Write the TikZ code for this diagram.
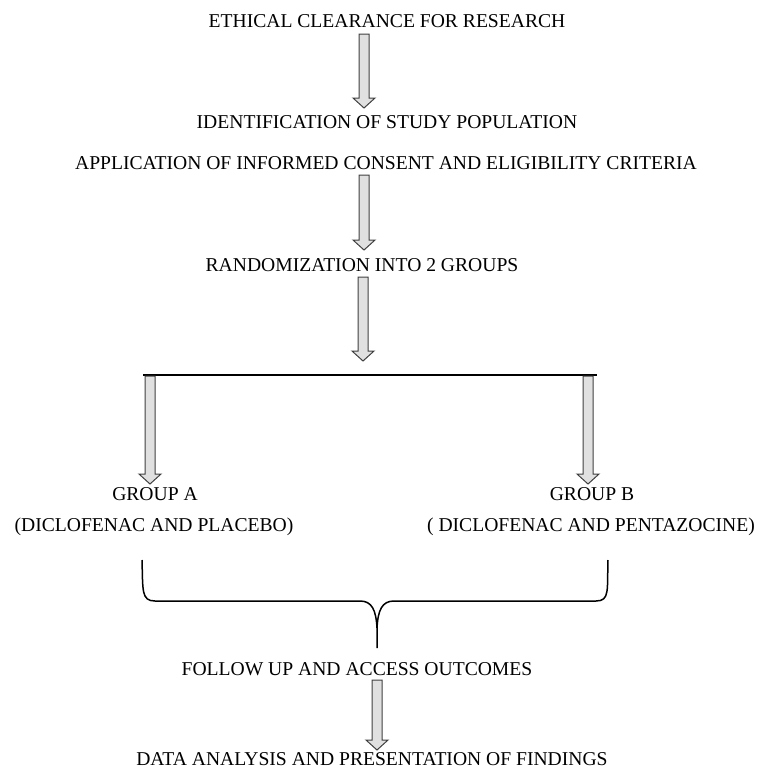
\documentclass[tikz,border=0pt]{standalone}
\usepackage{fontspec}
\setmainfont{Liberation Serif}
\usetikzlibrary{calc}
\tikzset{
  stage/.style={
    font=\fontsize{19.6}{22}\selectfont,
    inner sep=0pt,
    anchor=base,
  },
  blockarrow/.style={
    draw=black!75,
    fill=black!12,
    line width=1pt,
  },
  splitline/.style={line width=1.8pt},
  bracket/.style={line width=1.5pt},
}
\newcommand{\blockarr}[2]{%
  \draw [blockarrow] let \p1=(#1), \p2=(#2) in
    (\x1-5pt,\y1) -- (\x1-5pt,\y2+10pt) -- (\x1-11pt,\y2+10pt) -- (\x1,\y2)
    -- (\x1+11pt,\y2+10pt) -- (\x1+5pt,\y2+10pt) -- (\x1+5pt,\y1) -- cycle;}

\begin{document}
\begin{tikzpicture}[x=1pt,y=-1pt]
  \useasboundingbox (0,0) rectangle (761,769);
  %% stages
  \node (ethic) [stage] at (387,27.5) {ETHICAL CLEARANCE FOR RESEARCH};
  \node (ident) [stage] at (387,128.5) {IDENTIFICATION OF STUDY POPULATION};
  \node (appl) [stage] at (386,169.5) {APPLICATION OF INFORMED CONSENT AND ELIGIBILITY CRITERIA};
  \node (rand) [stage] at (362,271) {RANDOMIZATION INTO 2 GROUPS};
  \node (grpa) [stage] at (155,500) {GROUP A};
  \node (grpb) [stage] at (592,500) {GROUP B};
  \node (druga) [stage] at (154,531) {(DICLOFENAC AND PLACEBO)};
  \node (drugb) [stage] at (591,531) {( DICLOFENAC AND PENTAZOCINE)};
  \node (follow) [stage] at (357,675) {FOLLOW UP AND ACCESS OUTCOMES};
  \node (data) [stage] at (372,765) {DATA ANALYSIS AND PRESENTATION OF FINDINGS};
  %% arrow ends
  \coordinate (A1) at (364,34);
  \coordinate (B1) at (364,108);
  \coordinate (A2) at (364,175);
  \coordinate (B2) at (364,250);
  \coordinate (A3) at (363,277);
  \coordinate (B3) at (363,361);
  \coordinate (L) at (143,375);
  \coordinate (R) at (597,375);
  \coordinate (A4) at (150,376);
  \coordinate (B4) at (150,484);
  \coordinate (A5) at (588,376);
  \coordinate (B5) at (588,484);
  \coordinate (A6) at (377,680);
  \coordinate (B6) at (377,750);
  %%
  \blockarr{A1}{B1}
  \blockarr{A2}{B2}
  \blockarr{A3}{B3}
  \draw [splitline] (L) -- (R);
  \blockarr{A4}{B4}
  \blockarr{A5}{B5}
  %% brace
  \draw [bracket] (142,560) .. controls (143,590) and (141,601) .. (155,601)
    -- (360,601) .. controls (372,601) and (376,610) .. (377,628) -- (377,648);
  \draw [bracket] (377,628) .. controls (378,610) and (382,601) .. (394,601)
    -- (596,601) .. controls (610,601) and (607,590) .. (608,560);
  \blockarr{A6}{B6}
\end{tikzpicture}
\end{document}
